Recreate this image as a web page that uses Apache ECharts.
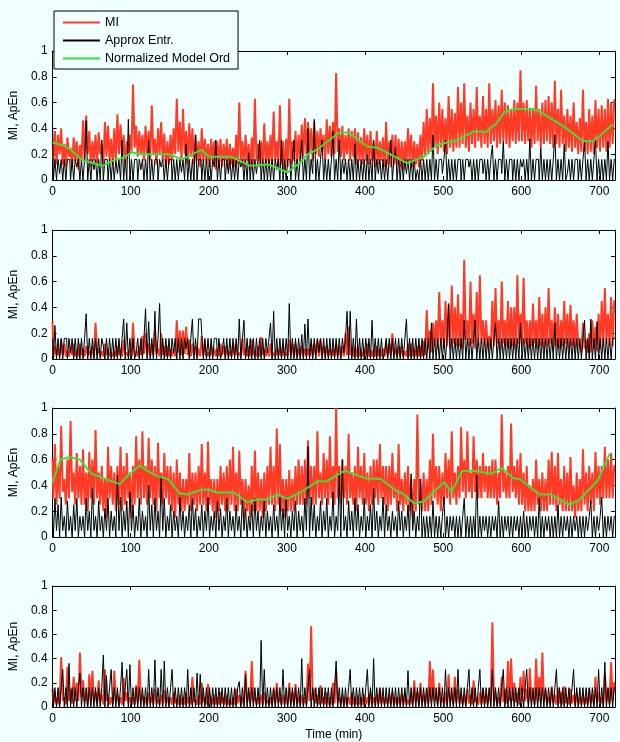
<!DOCTYPE html>
<html>
<head>
<meta charset="utf-8">
<script src="https://cdn.jsdelivr.net/npm/echarts@6/dist/echarts.min.js"></script>
<style>
html,body{margin:0;padding:0;background:#f0ffff;}
#c{width:620px;height:742px;}
</style>
</head>
<body>
<div id="c"></div>
<script>
// sampling grid (minutes), one value every 2 min
const T = Array.from({length: 361}, (_, i) => i * 2);
const xTicks = [0, 100, 200, 300, 400, 500, 600, 700];
const yTicks = [0, 0.2, 0.4, 0.6, 0.8, 1];
const names = ['MI', 'Approx Entr.', 'Normalized Model Ord'];

// ---- Panel 1 ----
const mi1 = [
0.30,0.15,0.38,0.12,0.35,0.20,0.40,0.12,0.28,0.10,0.33,0.18,0.25,0.10,0.33,0.15,0.30,0.08,0.27,0.15,
0.46,0.15,0.50,0.20,0.38,0.10,0.30,0.15,0.35,0.12,0.37,0.20,0.28,0.10,0.45,0.18,0.42,0.15,0.32,0.12,
0.40,0.15,0.51,0.20,0.43,0.18,0.35,0.12,0.30,0.20,0.35,0.22,0.74,0.25,0.42,0.18,0.38,0.20,0.35,0.15,
0.42,0.20,0.38,0.15,0.58,0.20,0.32,0.12,0.40,0.20,0.45,0.15,0.36,0.10,0.30,0.12,0.35,0.15,0.40,0.20,
0.63,0.22,0.45,0.15,0.55,0.20,0.38,0.12,0.44,0.18,0.40,0.12,0.35,0.15,0.30,0.10,0.40,0.15,0.32,0.12,
0.28,0.10,0.32,0.15,0.30,0.08,0.30,0.12,0.32,0.10,0.28,0.15,0.32,0.08,0.28,0.12,0.25,0.10,0.35,0.12,
0.60,0.15,0.30,0.10,0.35,0.15,0.28,0.08,0.33,0.12,0.63,0.15,0.28,0.10,0.30,0.12,0.44,0.10,0.30,0.12,
0.35,0.12,0.53,0.15,0.30,0.10,0.58,0.12,0.30,0.08,0.32,0.10,0.63,0.12,0.30,0.15,0.38,0.12,0.35,0.15,
0.43,0.18,0.48,0.20,0.45,0.22,0.40,0.15,0.45,0.20,0.38,0.18,0.40,0.22,0.35,0.15,0.47,0.20,0.42,0.18,
0.45,0.20,0.83,0.22,0.40,0.18,0.42,0.15,0.35,0.20,0.40,0.15,0.38,0.18,0.40,0.12,0.37,0.15,0.33,0.12,
0.40,0.15,0.35,0.12,0.38,0.15,0.30,0.10,0.38,0.12,0.30,0.15,0.33,0.10,0.45,0.12,0.30,0.10,0.35,0.12,
0.35,0.12,0.32,0.10,0.30,0.08,0.30,0.12,0.40,0.15,0.35,0.10,0.30,0.12,0.28,0.10,0.35,0.15,0.45,0.18,
0.55,0.20,0.48,0.22,0.75,0.25,0.50,0.20,0.60,0.25,0.55,0.22,0.48,0.20,0.65,0.25,0.55,0.22,0.52,0.25,
0.72,0.25,0.60,0.28,0.75,0.25,0.50,0.22,0.60,0.28,0.55,0.25,0.72,0.30,0.50,0.25,0.65,0.28,0.55,0.25,
0.75,0.28,0.55,0.30,0.62,0.25,0.58,0.28,0.70,0.30,0.60,0.28,0.58,0.25,0.55,0.30,0.62,0.28,0.60,0.30,
0.85,0.30,0.60,0.28,0.62,0.30,0.55,0.25,0.55,0.28,0.73,0.30,0.55,0.25,0.60,0.28,0.62,0.30,0.65,0.28,
0.60,0.25,0.77,0.28,0.55,0.25,0.70,0.28,0.50,0.22,0.55,0.25,0.50,0.22,0.60,0.25,0.45,0.20,0.48,0.22,
0.70,0.22,0.45,0.20,0.55,0.22,0.50,0.20,0.62,0.25,0.55,0.22,0.58,0.25,0.55,0.22,0.63,0.25,0.60,0.28,
0.62];
const ap1 = [
0.43,0,0.16,0,0.16,0.05,0.16,0,0.16,0,0.16,0.16,0,0.16,0,0.16,0.10,0.16,0,0.16,
0,0.16,0.46,0,0.16,0,0.16,0.08,0.16,0,0.16,0,0.31,0,0.16,0.16,0,0.16,0,0.16,
0,0.16,0.05,0.16,0,0.31,0,0.16,0,0.47,0,0.16,0,0.16,0.16,0,0.16,0.08,0.16,0,
0.16,0,0.31,0,0.16,0,0.16,0.16,0,0.16,0.10,0.16,0,0.16,0,0.16,0.16,0,0.16,0,
0.16,0,0.16,0.06,0.16,0,0.28,0,0.16,0,0.16,0,0.35,0,0.16,0.16,0,0.16,0,0.16,
0,0.16,0,0.16,0.10,0.31,0,0.16,0,0.16,0.16,0,0.16,0.05,0.16,0,0.16,0,0.16,0,
0.16,0.10,0.16,0,0.16,0,0.21,0,0.16,0,0.16,0.05,0.16,0.31,0,0.16,0,0.16,0,0.16,
0,0.16,0,0.16,0.08,0.16,0,0.31,0,0.16,0,0.16,0.16,0,0.16,0.31,0,0.16,0,0.16,
0.31,0,0.16,0,0.40,0,0.16,0.05,0.47,0,0.16,0,0.16,0.31,0,0.16,0,0.16,0,0.16,
0.38,0,0.16,0,0.31,0,0.16,0.05,0.16,0,0.16,0,0.16,0,0.28,0,0.16,0,0.16,0,
0.16,0,0.20,0,0.16,0,0.31,0,0.16,0.05,0.16,0,0.16,0,0.16,0,0.16,0.31,0,0.16,
0.25,0,0.16,0,0.16,0,0.16,0.05,0.16,0,0.16,0,0.16,0,0.08,0,0.16,0,0.16,0,
0.16,0,0.16,0,0.35,0,0.16,0,0.16,0.16,0.05,0.16,0.31,0,0.16,0,0.16,0,0.16,0,
0.16,0.16,0,0.16,0,0.16,0.16,0.10,0.16,0,0.16,0,0.16,0,0.16,0.16,0.05,0.16,0,0.16,
0,0.16,0.27,0,0.16,0,0.16,0.16,0.05,0.30,0,0.16,0,0.16,0.16,0,0.16,0,0.16,0,
0.16,0.10,0.16,0,0.16,0,0.32,0,0.16,0,0.16,0.16,0,0.25,0,0.16,0,0.16,0,0.16,
0,0.16,0.35,0,0.16,0,0.16,0,0.28,0,0.05,0.16,0,0.16,0,0.16,0.16,0,0.16,0,
0.16,0.30,0,0.16,0,0.16,0,0.16,0.31,0,0.16,0,0.16,0,0.16,0,0.30,0,0.16,0,
0.16];
const ordT1 = [0,13,22,38,64,77,89,102,110,140,149,166,191,200,229,253,276,301,318,327,340,365,378,403,416,454,475,492,505,518,541,554,567,579,590,615,624,658,679,692,704,717];
const ord1 = [0.29,0.27,0.24,0.155,0.11,0.15,0.17,0.215,0.2,0.2,0.2,0.16,0.235,0.18,0.18,0.11,0.12,0.06,0.14,0.2,0.24,0.36,0.37,0.26,0.25,0.13,0.18,0.27,0.29,0.31,0.38,0.37,0.43,0.53,0.55,0.55,0.53,0.40,0.30,0.30,0.36,0.43];

// ---- Panel 2 ----
const mi2 = [
0.29,0.02,0.10,0.03,0.08,0.02,0.15,0.03,0.12,0.02,0.06,0.02,0.10,0.03,0.12,0.02,0.06,0.02,0.12,0.03,
0.08,0.02,0.10,0.03,0.06,0.02,0.10,0.02,0.28,0.04,0.08,0.02,0.06,0.02,0.12,0.03,0.08,0.02,0.05,0.02,
0.06,0.02,0.10,0.03,0.08,0.02,0.15,0.03,0.05,0.02,0.08,0.02,0.28,0.04,0.06,0.02,0.10,0.03,0.18,0.04,
0.20,0.03,0.12,0.02,0.12,0.03,0.22,0.04,0.08,0.02,0.20,0.03,0.10,0.02,0.10,0.02,0.08,0.02,0.08,0.02,
0.30,0.05,0.22,0.03,0.22,0.04,0.25,0.03,0.15,0.02,0.12,0.03,0.10,0.02,0.08,0.02,0.18,0.03,0.12,0.02,
0.05,0.02,0.10,0.02,0.08,0.02,0.08,0.02,0.12,0.03,0.10,0.02,0.10,0.02,0.06,0.02,0.12,0.03,0.12,0.02,
0.05,0.02,0.16,0.03,0.08,0.02,0.10,0.02,0.15,0.03,0.06,0.02,0.10,0.02,0.17,0.03,0.08,0.02,0.08,0.02,
0.12,0.02,0.05,0.02,0.08,0.02,0.08,0.02,0.10,0.02,0.05,0.02,0.15,0.03,0.12,0.02,0.12,0.02,0.08,0.02,
0.10,0.02,0.08,0.02,0.08,0.02,0.12,0.02,0.12,0.03,0.15,0.02,0.15,0.03,0.10,0.02,0.10,0.02,0.08,0.02,
0.08,0.02,0.12,0.02,0.10,0.02,0.10,0.02,0.20,0.03,0.25,0.03,0.08,0.02,0.10,0.02,0.10,0.02,0.05,0.02,
0.08,0.02,0.12,0.02,0.07,0.02,0.07,0.02,0.10,0.02,0.08,0.02,0.08,0.02,0.12,0.02,0.12,0.03,0.20,0.03,
0.08,0.02,0.10,0.02,0.10,0.02,0.06,0.02,0.12,0.02,0.12,0.02,0.08,0.02,0.10,0.02,0.10,0.02,0.14,0.03,
0.38,0.08,0.22,0.05,0.28,0.10,0.30,0.08,0.52,0.12,0.30,0.08,0.45,0.10,0.42,0.08,0.57,0.12,0.40,0.10,
0.50,0.10,0.35,0.08,0.77,0.15,0.30,0.10,0.60,0.12,0.35,0.08,0.52,0.10,0.65,0.12,0.30,0.10,0.30,0.08,
0.18,0.08,0.45,0.10,0.55,0.12,0.30,0.08,0.60,0.12,0.30,0.10,0.45,0.08,0.40,0.10,0.40,0.08,0.65,0.12,
0.35,0.10,0.63,0.12,0.30,0.08,0.30,0.10,0.43,0.12,0.30,0.08,0.48,0.10,0.35,0.08,0.40,0.10,0.55,0.12,
0.30,0.08,0.40,0.10,0.35,0.08,0.30,0.10,0.45,0.12,0.35,0.08,0.42,0.10,0.30,0.08,0.35,0.10,0.12,0.05,
0.28,0.08,0.15,0.05,0.20,0.05,0.30,0.08,0.25,0.06,0.35,0.08,0.45,0.10,0.55,0.12,0.35,0.10,0.48,0.10,
0.45];
const ap2 = [
0.16,0,0.26,0,0.16,0,0.16,0,0.16,0.16,0,0.16,0.05,0.16,0,0.16,0,0.16,0,0.16,
0,0.16,0.35,0,0.16,0,0.16,0,0.16,0,0.16,0,0.16,0.10,0,0.16,0,0.16,0,0.16,
0,0.16,0,0.16,0,0.16,0.31,0,0.28,0,0.16,0,0.16,0,0.05,0.16,0,0.16,0,0.16,
0.39,0,0.29,0,0.16,0,0.37,0,0.16,0.43,0,0.16,0,0.16,0,0.16,0,0.16,0.05,0.16,
0,0.16,0,0.16,0,0.16,0.08,0.16,0,0.16,0.31,0,0.16,0,0.31,0.31,0.19,0,0.16,0,
0.16,0,0.16,0,0.16,0.16,0,0.16,0,0.05,0.16,0,0.16,0,0.16,0,0.16,0,0.16,0,
0.31,0,0.16,0.30,0,0.16,0,0.16,0,0.16,0,0.16,0,0.16,0,0.16,0,0.16,0.05,0.16,
0.28,0,0.37,0,0.16,0,0.16,0,0.16,0,0.16,0,0.43,0,0.16,0,0.16,0,0.16,0,
0.19,0,0.27,0,0.31,0,0.16,0,0.16,0,0.16,0.05,0.16,0,0.16,0,0.16,0,0.16,0,
0.16,0,0.16,0,0.16,0,0.16,0.05,0.16,0.37,0,0.37,0,0.16,0,0.31,0,0.16,0,0.16,
0,0.16,0,0.16,0,0.30,0,0.16,0,0.16,0,0.16,0,0.05,0.16,0,0.16,0,0.16,0,
0.16,0,0.16,0,0.16,0,0.16,0.31,0,0.16,0,0.16,0,0.16,0,0.16,0,0.16,0,0.16,
0,0.16,0,0.28,0,0.16,0,0.16,0,0.16,0,0.16,0,0.16,0.43,0,0.16,0,0.16,0,
0.16,0,0.16,0,0.30,0,0.16,0,0.16,0,0.16,0.30,0,0.16,0,0.16,0,0.16,0,0.16,
0,0.16,0,0.16,0.28,0,0.16,0,0.16,0,0.16,0,0.16,0,0.16,0,0.16,0,0.16,0,
0.28,0,0.16,0,0.16,0,0.16,0,0.16,0,0.16,0,0.16,0,0.16,0,0.16,0,0.16,0,
0.16,0,0.28,0,0.16,0,0.16,0,0.16,0,0.16,0,0.16,0,0.16,0,0.16,0,0.16,0,
0.16,0.30,0,0.16,0,0.31,0,0.16,0,0.29,0,0.16,0,0.16,0,0.16,0,0.16,0,0.16,
0.16];

// ---- Panel 3 ----
const mi3 = [
0.60,0.30,0.72,0.25,0.55,0.30,0.86,0.35,0.45,0.25,0.60,0.30,0.90,0.35,0.50,0.25,0.65,0.30,0.55,0.25,
0.68,0.25,0.50,0.20,0.66,0.30,0.60,0.25,0.83,0.30,0.50,0.25,0.55,0.20,0.45,0.15,0.70,0.30,0.55,0.25,
0.50,0.20,0.55,0.25,0.70,0.20,0.55,0.25,0.65,0.30,0.50,0.15,0.55,0.25,0.78,0.30,0.60,0.25,0.82,0.30,
0.55,0.25,0.77,0.30,0.60,0.25,0.55,0.20,0.73,0.30,0.50,0.25,0.65,0.30,0.55,0.25,0.55,0.20,0.50,0.15,
0.60,0.25,0.50,0.20,0.45,0.20,0.45,0.25,0.65,0.20,0.50,0.25,0.50,0.20,0.55,0.25,0.72,0.25,0.50,0.20,
0.74,0.25,0.45,0.20,0.45,0.15,0.45,0.20,0.55,0.25,0.50,0.20,0.55,0.20,0.60,0.25,0.70,0.20,0.50,0.20,
0.67,0.25,0.45,0.15,0.45,0.20,0.40,0.15,0.55,0.20,0.67,0.20,0.50,0.20,0.45,0.15,0.50,0.20,0.55,0.25,
0.70,0.25,0.55,0.20,0.84,0.25,0.72,0.20,0.45,0.15,0.45,0.20,0.52,0.20,0.45,0.20,0.55,0.25,0.60,0.25,
0.55,0.25,0.60,0.25,0.75,0.30,0.55,0.25,0.55,0.25,0.82,0.30,0.50,0.25,0.65,0.30,0.60,0.25,0.78,0.30,
0.55,0.25,1.00,0.30,0.55,0.25,0.60,0.30,0.55,0.25,0.80,0.30,0.50,0.25,0.55,0.20,0.70,0.30,0.55,0.25,
0.65,0.25,0.50,0.20,0.55,0.25,0.60,0.30,0.60,0.25,0.72,0.30,0.55,0.25,0.55,0.20,0.55,0.25,0.65,0.30,
0.50,0.20,0.72,0.25,0.45,0.20,0.50,0.25,0.55,0.20,0.45,0.15,0.45,0.20,0.95,0.25,0.45,0.20,0.50,0.20,
0.45,0.20,0.60,0.25,0.80,0.30,0.55,0.25,0.55,0.20,0.50,0.25,0.65,0.30,0.60,0.25,0.82,0.30,0.50,0.25,
0.55,0.30,0.85,0.35,0.60,0.30,0.82,0.35,0.50,0.30,0.78,0.35,0.60,0.30,0.55,0.30,0.65,0.35,0.55,0.30,
0.55,0.30,0.60,0.30,0.60,0.25,0.50,0.30,0.95,0.35,0.50,0.30,0.55,0.30,0.88,0.35,0.55,0.30,0.60,0.25,
0.65,0.25,0.50,0.20,0.55,0.20,0.40,0.20,0.45,0.20,0.60,0.25,0.45,0.20,0.50,0.20,0.45,0.20,0.60,0.25,
0.66,0.25,0.55,0.20,0.65,0.25,0.45,0.20,0.55,0.20,0.50,0.20,0.62,0.20,0.40,0.15,0.50,0.20,0.45,0.20,
0.68,0.25,0.50,0.20,0.55,0.25,0.50,0.20,0.66,0.30,0.55,0.25,0.55,0.30,0.70,0.30,0.60,0.30,0.65,0.30,
0.55];
const ap3 = [
0.18,0,0.30,0.05,0.25,0,0.31,0.05,0.16,0,0.28,0.05,0.16,0,0.25,0.05,0.30,0,0.16,0.05,
0.16,0,0.30,0.05,0.20,0,0.38,0.05,0.16,0,0.28,0.05,0.16,0,0.22,0.05,0.30,0,0.20,0.05,
0.16,0,0.48,0.05,0.31,0,0.20,0.05,0.28,0,0.35,0.05,0.25,0,0.16,0.05,0.30,0,0.20,0.05,
0.16,0,0.40,0.05,0.25,0,0.30,0.05,0.20,0,0.47,0.05,0.30,0,0.16,0.05,0.25,0,0.20,0.05,
0.16,0,0.31,0.05,0.20,0,0.16,0.05,0.25,0,0.30,0.05,0.22,0,0.16,0.05,0.25,0,0.20,0.05,
0.31,0,0.16,0.05,0.20,0,0.28,0.05,0.22,0,0.16,0.05,0.30,0,0.20,0.05,0.16,0,0.25,0.05,
0.16,0,0.31,0.05,0.22,0,0.16,0.05,0.25,0,0.30,0.05,0.20,0,0.16,0.05,0.28,0,0.20,0.05,
0.16,0,0.25,0.05,0.16,0,0.31,0.05,0.22,0,0.30,0.05,0.16,0,0.20,0.05,0.28,0,0.20,0.05,
0.16,0,0.30,0.05,0.70,0,0.31,0.05,0.25,0,0.16,0.05,0.28,0,0.20,0.05,0.30,0,0.16,0.05,
0.35,0,0.16,0.05,0.50,0,0.60,0.05,0.16,0,0.28,0.05,0.20,0,0.30,0.05,0.25,0,0.16,0.05,
0.30,0,0.16,0.05,0.25,0,0.38,0.05,0.20,0,0.16,0.05,0.31,0,0.25,0.05,0.16,0,0.20,0.05,
0.16,0,0.28,0.05,0.20,0,0.16,0.05,0.25,0,0.49,0.05,0.20,0,0.16,0.05,0.45,0,0.16,0,
0.16,0,0.16,0,0.28,0,0.16,0,0.16,0,0.16,0.31,0,0.16,0,0.16,0.05,0.16,0,0.16,
0,0.16,0,0.16,0.30,0,0.16,0,0.16,0,0.16,0,0.48,0,0.16,0,0.16,0.05,0.16,0,
0.16,0,0.16,0.05,0.16,0,0.28,0,0.16,0,0.16,0.05,0.16,0,0.16,0,0.16,0.05,0.16,0,
0.16,0,0.20,0,0.16,0,0.16,0.05,0.16,0,0.16,0,0.30,0,0.16,0,0.16,0.05,0.16,0,
0.16,0,0.16,0,0.25,0,0.16,0,0.16,0.05,0.16,0,0.16,0,0.16,0.05,0.16,0,0.16,0,
0.16,0,0.16,0.05,0.16,0.28,0,0.16,0,0.16,0.05,0.16,0.31,0,0.16,0,0.16,0.05,0.16,0,
0.16];
const ordT3 = [0,10,22,35,50,63,86,97,112,122,135,148,162,173,190,199,211,232,249,262,275,288,300,317,340,350,374,401,420,442,448,463,475,501,511,524,537,562,575,590,598,624,637,662,675,698,713];
const ord3 = [0.425,0.6,0.62,0.6,0.49,0.46,0.41,0.48,0.555,0.51,0.47,0.45,0.34,0.33,0.365,0.37,0.345,0.345,0.27,0.29,0.29,0.33,0.295,0.345,0.435,0.43,0.515,0.455,0.45,0.35,0.34,0.26,0.275,0.425,0.35,0.51,0.515,0.49,0.535,0.455,0.45,0.33,0.33,0.25,0.29,0.44,0.645];

// ---- Panel 4 ----
const mi4 = [
0.15,0.03,0.10,0.02,0.08,0.02,0.41,0.05,0.08,0.02,0.33,0.05,0.15,0.03,0.25,0.05,0.20,0.05,0.45,0.08,
0.22,0.05,0.10,0.02,0.27,0.05,0.30,0.05,0.12,0.03,0.22,0.05,0.10,0.02,0.31,0.05,0.10,0.02,0.08,0.02,
0.30,0.05,0.10,0.02,0.08,0.02,0.24,0.05,0.12,0.03,0.08,0.02,0.08,0.02,0.18,0.04,0.39,0.05,0.10,0.02,
0.08,0.02,0.12,0.03,0.08,0.02,0.15,0.03,0.06,0.02,0.10,0.02,0.14,0.03,0.08,0.02,0.08,0.02,0.12,0.03,
0.07,0.02,0.10,0.02,0.08,0.02,0.12,0.03,0.08,0.02,0.25,0.04,0.06,0.02,0.10,0.02,0.20,0.04,0.08,0.02,
0.19,0.03,0.08,0.02,0.10,0.02,0.08,0.02,0.12,0.03,0.08,0.02,0.10,0.02,0.06,0.02,0.08,0.02,0.15,0.03,
0.10,0.02,0.08,0.02,0.30,0.04,0.12,0.03,0.38,0.05,0.08,0.02,0.08,0.02,0.10,0.02,0.12,0.03,0.06,0.02,
0.08,0.02,0.15,0.03,0.20,0.04,0.08,0.02,0.10,0.02,0.08,0.02,0.20,0.03,0.12,0.02,0.19,0.03,0.08,0.02,
0.10,0.02,0.08,0.02,0.36,0.05,0.67,0.06,0.15,0.03,0.10,0.02,0.18,0.03,0.08,0.02,0.12,0.02,0.08,0.02,
0.20,0.03,0.30,0.04,0.08,0.02,0.10,0.02,0.08,0.02,0.08,0.02,0.12,0.02,0.08,0.02,0.10,0.02,0.08,0.02,
0.10,0.02,0.08,0.02,0.12,0.02,0.08,0.02,0.10,0.02,0.15,0.03,0.08,0.02,0.08,0.02,0.10,0.02,0.12,0.02,
0.08,0.02,0.08,0.02,0.10,0.02,0.12,0.02,0.06,0.02,0.10,0.02,0.22,0.04,0.12,0.02,0.20,0.04,0.10,0.02,
0.15,0.03,0.38,0.05,0.31,0.05,0.10,0.02,0.20,0.04,0.08,0.02,0.12,0.02,0.27,0.05,0.10,0.02,0.25,0.04,
0.15,0.03,0.10,0.02,0.10,0.02,0.15,0.03,0.10,0.02,0.22,0.04,0.08,0.02,0.12,0.02,0.15,0.03,0.10,0.02,
0.15,0.03,0.70,0.05,0.12,0.02,0.08,0.02,0.25,0.04,0.15,0.03,0.38,0.05,0.40,0.05,0.20,0.04,0.12,0.02,
0.25,0.04,0.30,0.05,0.15,0.03,0.32,0.05,0.12,0.02,0.40,0.05,0.25,0.04,0.45,0.05,0.15,0.03,0.08,0.02,
0.17,0.03,0.10,0.02,0.16,0.03,0.12,0.02,0.17,0.03,0.08,0.02,0.15,0.03,0.10,0.02,0.12,0.02,0.08,0.02,
0.10,0.02,0.08,0.02,0.15,0.03,0.10,0.02,0.25,0.04,0.12,0.02,0.08,0.02,0.28,0.04,0.15,0.03,0.37,0.05,
0.20];
const ap4 = [
0.16,0,0.16,0,0.16,0,0.16,0.31,0,0.16,0,0.36,0,0.16,0,0.16,0,0.16,0.28,0,
0.16,0,0.16,0,0.16,0,0.16,0,0.16,0,0.16,0,0.16,0.43,0,0.26,0,0.16,0.31,0,
0.16,0,0.16,0,0.16,0.37,0,0.16,0.31,0,0.35,0,0.16,0,0.16,0,0.16,0,0.16,0,
0.16,0,0.31,0,0.16,0,0.39,0,0.16,0,0.31,0,0.38,0,0.16,0,0.16,0.31,0,0.16,
0,0.16,0,0.16,0,0.16,0,0.31,0,0.16,0,0.16,0,0.28,0,0.27,0,0.16,0,0.16,
0,0.16,0,0.16,0,0.16,0,0.16,0,0.16,0,0.16,0,0.16,0,0.16,0,0.16,0,0.16,
0.21,0,0.16,0,0.27,0,0.16,0,0.16,0,0.16,0,0.16,0,0.55,0,0.31,0,0.16,0,
0.16,0,0.16,0,0.16,0,0.16,0,0.31,0,0.16,0,0.16,0,0.16,0,0.16,0,0.16,0,
0.40,0,0.16,0,0.16,0.31,0,0.16,0,0.16,0,0.16,0,0.16,0,0.16,0,0.16,0,0.16,
0,0.16,0.38,0,0.16,0,0.16,0,0.16,0,0.16,0.31,0,0.16,0,0.16,0,0.16,0,0.16,
0,0.16,0.31,0,0.16,0,0.40,0,0.16,0,0.16,0,0.16,0,0.16,0,0.16,0,0.16,0,
0.16,0,0.16,0,0.16,0,0.16,0,0.30,0,0.16,0,0.16,0,0.16,0,0.16,0,0.16,0,
0.16,0,0.16,0,0.16,0,0.16,0,0.16,0,0.16,0,0.31,0,0.16,0,0.16,0,0.16,0,
0.31,0,0.16,0,0.16,0,0.16,0.31,0,0.16,0,0.16,0,0.16,0.31,0,0.16,0,0.16,0,
0.16,0,0.31,0,0.16,0,0.16,0,0.16,0.31,0,0.16,0,0.16,0,0.16,0,0.16,0,0.16,
0,0.16,0,0.16,0.31,0,0.16,0,0.16,0,0.16,0,0.16,0,0.16,0,0.16,0,0.16,0,
0.16,0,0.16,0.31,0,0.16,0,0.16,0,0.16,0,0.16,0,0.16,0.31,0,0.16,0,0.16,0,
0.16,0,0.16,0,0.16,0,0.16,0,0.16,0,0.31,0,0.16,0,0.37,0,0.16,0,0.16,0,
0.16];

const RED = '#ff3b26', BLACK = '#000000', GREEN = '#3ce03a';
const FONT = 'Liberation Sans, Arial, Helvetica, sans-serif';

const panels = [
  {mi: mi1, ap: ap1, ordT: ordT1, ord: ord1},
  {mi: mi2, ap: ap2},
  {mi: mi3, ap: ap3, ordT: ordT3, ord: ord3},
  {mi: mi4, ap: ap4}
];
const tops = [51, 230, 408, 586];
const pairs = arr => arr.slice(0, T.length).map((v, k) => [T[k], v]);

const grid = [], xAxis = [], yAxis = [], series = [];
panels.forEach((p, i) => {
  grid.push({left: 50, right: 5, top: tops[i], height: 129});
  const baseX = {
    type: 'value', gridIndex: i, min: 0, max: 720, interval: 100,
    axisLine: {show: true, onZero: false, lineStyle: {color: '#000', width: 1}},
    axisTick: {show: true, inside: true, length: 4, lineStyle: {color: '#000'}},
    splitLine: {show: false}
  };
  xAxis.push(Object.assign({}, baseX, {
    position: 'bottom',
    axisLabel: {show: true, color: '#000', fontSize: 12, fontFamily: FONT, margin: 6, showMaxLabel: false,
      formatter: v => xTicks.includes(v) ? String(v) : ''},
    name: i === 3 ? 'Time (min)' : '',
    nameLocation: 'middle', nameGap: 22,
    nameTextStyle: {color: '#000', fontSize: 12, fontFamily: FONT}
  }));
  xAxis.push(Object.assign({}, baseX, {position: 'top', axisLabel: {show: false}}));
  const baseY = {
    type: 'value', gridIndex: i, min: 0, max: 1, interval: 0.2,
    axisLine: {show: true, onZero: false, lineStyle: {color: '#000', width: 1}},
    axisTick: {show: true, inside: true, length: 4, lineStyle: {color: '#000'}},
    splitLine: {show: false}
  };
  yAxis.push(Object.assign({}, baseY, {
    position: 'left',
    axisLabel: {show: true, color: '#000', fontSize: 12, fontFamily: FONT, margin: 5,
      formatter: v => { const t = yTicks.find(y => Math.abs(y - v) < 1e-6); return t === undefined ? '' : String(t); }},
    name: 'MI, ApEn', nameLocation: 'middle', nameGap: 22, nameRotate: 90,
    nameTextStyle: {color: '#000', fontSize: 12, fontFamily: FONT}
  }));
  yAxis.push(Object.assign({}, baseY, {position: 'right', axisLabel: {show: false}}));

  series.push({
    name: names[0], type: 'line', xAxisIndex: 2 * i, yAxisIndex: 2 * i,
    data: pairs(p.mi), symbol: 'none', showSymbol: false, step: 'middle',
    lineStyle: {color: RED, width: 2}, itemStyle: {color: RED}, z: 2
  });
  series.push({
    name: names[1], type: 'line', xAxisIndex: 2 * i, yAxisIndex: 2 * i,
    data: pairs(p.ap), symbol: 'none', showSymbol: false, step: 'middle',
    lineStyle: {color: BLACK, width: 1}, itemStyle: {color: BLACK}, z: 3
  });
  if (p.ord) {
    series.push({
      name: names[2], type: 'line', xAxisIndex: 2 * i, yAxisIndex: 2 * i,
      data: p.ord.map((v, k) => [p.ordT[k], v]), symbol: 'none', showSymbol: false,
      lineStyle: {color: GREEN, width: 2}, itemStyle: {color: GREEN}, z: 4
    });
  }
});

const chart = echarts.init(document.getElementById('c'), null, {renderer: 'canvas'});
chart.setOption({
  backgroundColor: '#f0ffff',
  animation: false,
  textStyle: {fontFamily: FONT},
  legend: {
    data: names, orient: 'vertical', left: 54, top: 11,
    padding: [5, 8, 4, 8], itemGap: 5, itemWidth: 37, itemHeight: 14,
    itemStyle: {opacity: 0},
    backgroundColor: '#f0ffff', borderColor: '#000', borderWidth: 1,
    textStyle: {color: '#000', fontSize: 12.5, fontFamily: FONT},
    selectedMode: false, z: 10
  },
  grid, xAxis, yAxis, series
});
</script>
</body>
</html>
